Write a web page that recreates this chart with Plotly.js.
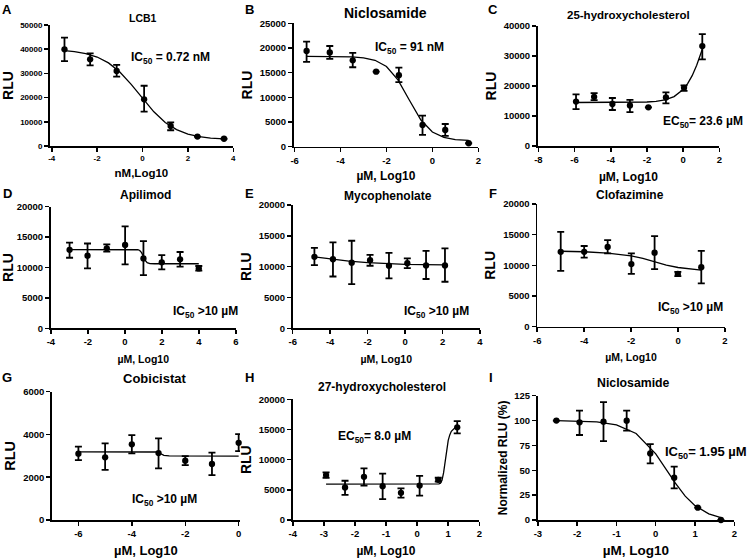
<!DOCTYPE html>
<html><head><meta charset="utf-8">
<script src="https://cdn.plot.ly/plotly-3.0.1.min.js"></script>
<style>html,body{margin:0;padding:0;background:#fff}#chart{width:747px;height:558px}</style>
</head><body><div id="chart"></div>
<script>
// ---------- A: LCB1 ----------
const aDose = [-3.44,-2.31,-1.14,0.07,1.24,2.42,3.59];
const aRLU  = [39950,35800,31000,19300,8300,3900,3000];
const aHi   = [44800,38300,33500,24900,9800,3900,3000];
const aLo   = [35100,33300,28700,14200,6500,3900,3000];
const aFitX = [-3.44,-3,-2.5,-2,-1.5,-1,-0.5,0,0.5,1,1.5,2,2.5,3,3.59];
const aFitY = [39450,39030,38200,36760,34330,30580,25490,19650,14110,9740,6760,4940,3880,3290,2930];
// ---------- B: Niclosamide ----------
const bDose = [-5.48,-4.47,-3.47,-2.45,-1.46,-0.43,0.56,1.58];
const bRLU  = [19400,19100,17500,15200,14500,4400,3400,700];
const bHi   = [21300,20400,19000,15200,16000,6300,4600,700];
const bLo   = [17200,17800,16100,15200,13100,2400,2200,700];
const bFitX = [-5.48,-4.5,-3.5,-3,-2.5,-2,-1.5,-1,-0.5,0,0.5,1,1.58];
const bFitY = [18300,18290,18200,18010,17510,16240,13540,9400,5410,2980,1880,1450,1270];
// ---------- C: 25-hydroxycholesterol ----------
const cDose = [-5.92,-4.92,-3.91,-2.94,-1.92,-0.95,0.05,1.06];
const cRLU  = [14800,16400,14000,13500,12900,16200,19400,33300];
const cHi   = [17200,17600,16000,15400,12900,17900,20200,37300];
const cLo   = [12300,15300,12000,11300,12900,14200,18400,28900];
const cFitX = [-5.92,-5,-4,-3,-2,-1.5,-1,-0.5,0,0.25,0.5,0.75,1.06];
const cFitY = [14500,14502,14506,14531,14664,14880,15370,16470,18830,20790,23450,26910,32260];
// ---------- D: Apilimod ----------
const dDose = [-2.99,-2.02,-0.98,0.01,1.0,1.99,2.98,3.99];
const dRLU  = [12900,11950,13150,13700,11500,10850,11350,9850];
const dHi   = [14100,13950,13800,16750,14350,12050,12550,10250];
const dLo   = [11600,9850,12600,10500,8750,9700,10150,9500];
const dFitX = [-2.99,0.5,0.7,0.8,0.9,1.0,1.1,1.2,1.35,1.6,3.99];
const dFitY = [12950,12950,12920,12800,12450,11800,11150,10800,10650,10620,10620];
// ---------- E: Mycophenolate ----------
const eDose = [-4.84,-3.85,-2.85,-1.87,-0.86,0.12,1.12,2.13];
const eRLU  = [11600,11200,10650,11050,10150,10550,10200,10200];
const eHi   = [13050,13950,14200,11900,12250,11350,12550,12950];
const eLo   = [10250,8400,7150,10150,8100,9750,8000,7550];
const eFitX = [-4.84,-4,-3,-2,-1,0,1,2.13];
const eFitY = [11600,11250,10900,10650,10480,10380,10330,10300];
// ---------- F: Clofazimine ----------
const fDose = [-5,-4,-3,-1.99,-1,-0.01,0.99];
const fRLU  = [12200,12200,13000,10200,12050,8600,9700];
const fHi   = [15450,13150,14100,11950,14750,8950,12350];
const fLo   = [9100,11250,11950,8600,9400,8250,7050];
const fFitX = [-5,-4,-3,-2,-1.5,-1,-0.5,0,0.5,0.99];
const fFitY = [12300,12220,12000,11550,11150,10600,10050,9650,9380,9230];
// ---------- G: Cobicistat ----------
const gDose = [-6,-5,-4,-3,-2,-1,0];
const gRLU  = [3100,2930,3540,3130,2770,2620,3610];
const gHi   = [3430,3580,3970,3820,2990,3150,4020];
const gLo   = [2800,2340,3120,2410,2570,2100,3220];
const gFitX = [-6,-3.3,-3.1,-2.95,-2.8,-2.6,0];
const gFitY = [3190,3190,3180,3120,3020,2995,2990];
// ---------- H: 27-hydroxycholesterol ----------
const hDose = [-2.93,-2.32,-1.71,-1.11,-0.52,0.08,0.68,1.29];
const hRLU  = [7450,5400,7150,5600,4500,5700,6650,15350];
const hHi   = [7900,6500,8550,7700,5250,7300,7000,16400];
const hLo   = [7000,4150,5700,3450,3700,4050,6350,14350];
const hFitX = [-2.93,0.6,0.7,0.75,0.8,0.85,0.9,0.95,1.0,1.05,1.1,1.2,1.29];
const hFitY = [5950,5950,5980,6100,6600,7800,9800,11800,13200,14100,14700,15200,15400];
// ---------- I: Niclosamide (normalized) ----------
const iDose = [-2.53,-1.94,-1.33,-0.74,-0.14,0.47,1.07,1.66];
const iRLU  = [100,98.2,98.9,99.9,67,42.6,12.4,0];
const iHi   = [100,109.9,118.6,109.9,76.4,53.6,12.4,0];
const iLo   = [100,85.5,79.4,89.8,57,31.8,12.4,0];
const iFitX = [-2.53,-2,-1.5,-1,-0.5,0,0.25,0.5,0.75,1,1.35,1.66];
const iFitY = [99.9,99.6,98.7,95.7,87.0,66.5,51.9,37.0,24.0,14.4,6.2,2.5];

// ---------- texts & ticks ----------
const panelLetters = ['A','B','C','D','E','F','G','H','I'];
const panelTitles = ['LCB1','Niclosamide','25-hydroxycholesterol','Apilimod','Mycophenolate','Clofazimine','Cobicistat','27-hydroxycholesterol','Niclosamide'];
const xTitles = ['nM,Log10','µM, Log10','µM, Log10','µM, Log10','µM, Log10','µM, Log10','µM, Log10','µM, Log10','µM, Log10'];
const yTitles = ['RLU','RLU','RLU','RLU','RLU','RLU','RLU','RLU','Normalized RLU (%)'];
const potency = ['IC<sub>50</sub> = 0.72 nM','IC<sub>50</sub> = 91 nM','EC<sub>50</sub>= 23.6 µM','IC<sub>50</sub> >10 µM','IC<sub>50</sub> >10 µM','IC<sub>50</sub> >10 µM','IC<sub>50</sub> >10 µM','EC<sub>50</sub>= 8.0 µM','IC<sub>50</sub>= 1.95 µM'];
const xTicks = [[-4,-2,0,2,4],[-6,-4,-2,0,2],[-8,-6,-4,-2,0,2],[-4,-2,0,2,4,6],[-6,-4,-2,0,2,4],[-6,-4,-2,0,2],[-6,-4,-2,0],[-4,-3,-2,-1,0,1,2],[-3,-2,-1,0,1,2]];
const yTicks = [[0,10000,20000,30000,40000,50000],[0,5000,10000,15000,20000,25000],[0,10000,20000,30000,40000],[0,5000,10000,15000,20000],[0,5000,10000,15000,20000],[0,5000,10000,15000,20000],[0,2000,4000,6000],[0,5000,10000,15000,20000],[0,25,50,75,100,125]];

const series = [
  [aDose,aRLU,aHi,aLo,aFitX,aFitY],[bDose,bRLU,bHi,bLo,bFitX,bFitY],[cDose,cRLU,cHi,cLo,cFitX,cFitY],
  [dDose,dRLU,dHi,dLo,dFitX,dFitY],[eDose,eRLU,eHi,eLo,eFitX,eFitY],[fDose,fRLU,fHi,fLo,fFitX,fFitY],
  [gDose,gRLU,gHi,gLo,gFitX,gFitY],[hDose,hRLU,hHi,hLo,hFitX,hFitY],[iDose,iRLU,iHi,iLo,iFitX,iFitY]
];

// ---------- geometry (pixels in the 747x558 page) ----------
const W = 747, H = 558;
const geo = [
  {x0:49.5, x1:233.3, y0:25,    y1:146,   xr:[-4.1,4],   yr:[0,50000]},
  {x0:293.5,x1:478.3, y0:23.3,  y1:146.7, xr:[-6.05,2],  yr:[0,25000]},
  {x0:537.5,x1:719.3, y0:26,    y1:146,   xr:[-8.05,2],  yr:[0,40000]},
  {x0:50.5, x1:236,   y0:206.7, y1:328.3, xr:[-4.02,6],  yr:[0,20000]},
  {x0:292.5,x1:480,   y0:205,   y1:328.3, xr:[-6.01,4],  yr:[0,20000]},
  {x0:537,  x1:725,   y0:204,   y1:326.7, xr:[-6.01,2],  yr:[0,20000]},
  {x0:51.7, x1:240,   y0:391.7, y1:520,   xr:[-7,0.05],  yr:[0,6000]},
  {x0:292.5,x1:479.3, y0:399.3, y1:520,   xr:[-4.01,2],  yr:[0,20000]},
  {x0:537.5,x1:734.3, y0:395.7, y1:520,   xr:[-3.01,2],  yr:[0,125]}
];
const tickSize = [8,9.5,9.5,9.5,9.5,9.5,9.5,9.5,9.5];
const xTitleSize = [11.5,12,12,10.5,10.5,10.5,13,12,13.5];
const xTitleGap = [7,7,8,9,9,9,9,9,9];
const yTitleSize = [14,14,14,14,14,14,14.5,14,12];
const titleSize = [10.5,14,11.5,12,12,12,13,12,12.3];
const titlePos = [[143,18],[385,13],[628,15],[145,195],[388,196],[630,195],[155,378],[382,387],[633,383]];
const letterPos = [[7,10],[249,10],[493,10],[7,193],[249,193],[493,193],[7,377],[249,377],[491,377]];
const potPos = [[170,58],[409,48],[703,122],[205,312],[437,312],[690,308],[164,500],[374,437],[706,452]];
const potSize = [12,12,12,12,12,12,12,12,13];

const FONT = 'Liberation Sans, Arial, Helvetica, sans-serif';
const px = v => v / W, py = v => 1 - v / H;

const traces = [];
const layout = {
  width: W, height: H, margin: {l:0, r:0, t:0, b:0},
  paper_bgcolor: '#fff', plot_bgcolor: 'rgba(0,0,0,0)', showlegend: false,
  font: {family: FONT, color: '#000', size: 12},
  annotations: []
};

series.forEach((s, k) => {
  const [xs, ys, hi, lo, fx, fy] = s;
  const n = k + 1;
  const xa = 'x' + (n === 1 ? '' : n), ya = 'y' + (n === 1 ? '' : n);
  traces.push({
    type: 'scatter', mode: 'lines', x: fx, y: fy, xaxis: xa, yaxis: ya,
    line: {color: '#000', width: 1.3}, hoverinfo: 'skip', cliponaxis: false
  });
  traces.push({
    type: 'scatter', mode: 'markers', x: xs, y: ys, xaxis: xa, yaxis: ya,
    marker: {color: '#000', size: 6.3}, cliponaxis: false,
    error_y: {type: 'data', symmetric: false,
      array: hi.map((h, i) => h - ys[i]), arrayminus: lo.map((l, i) => ys[i] - l),
      color: '#000', thickness: 1.8, width: 3.5}
  });
  const g = geo[k];
  const common = {showline: true, linecolor: '#000', linewidth: 1.5, ticks: 'outside', ticklen: 4,
    tickwidth: 1.5, tickcolor: '#000', showgrid: false, zeroline: false, fixedrange: true,
    tickfont: {family: FONT, size: tickSize[k], color: '#000', weight: 'bold'}, automargin: false};
  layout['xaxis' + (n === 1 ? '' : n)] = Object.assign({}, common, {
    domain: [px(g.x0), px(g.x1)], range: g.xr, anchor: ya,
    tickmode: 'array', tickvals: xTicks[k], ticktext: xTicks[k].map(String),
    title: {text: xTitles[k], font: {family: FONT, size: xTitleSize[k], weight: 'bold', color: '#000'}, standoff: xTitleGap[k]}
  });
  layout['yaxis' + (n === 1 ? '' : n)] = Object.assign({}, common, {
    domain: [py(g.y1), py(g.y0)], range: g.yr, anchor: xa,
    tickmode: 'array', tickvals: yTicks[k], ticktext: yTicks[k].map(String),
    title: {text: yTitles[k], font: {family: FONT, size: yTitleSize[k], weight: 'bold', color: '#000'}, standoff: 4}
  });
  layout.annotations.push({xref:'paper', yref:'paper', x: px(titlePos[k][0]), y: py(titlePos[k][1]),
    xanchor:'center', yanchor:'middle', showarrow:false, text: panelTitles[k],
    font:{family: FONT, size: titleSize[k], weight:'bold', color:'#000'}});
  layout.annotations.push({xref:'paper', yref:'paper', x: px(letterPos[k][0]), y: py(letterPos[k][1]),
    xanchor:'center', yanchor:'middle', showarrow:false, text: panelLetters[k],
    font:{family: FONT, size: 13, weight:'bold', color:'#000'}});
  layout.annotations.push({xref:'paper', yref:'paper', x: px(potPos[k][0]), y: py(potPos[k][1]),
    xanchor:'center', yanchor:'middle', showarrow:false, text: potency[k],
    font:{family: FONT, size: potSize[k], weight:'bold', color:'#000'}});
});

Plotly.newPlot('chart', traces, layout, {displayModeBar: false, staticPlot: true});
</script></body></html>
